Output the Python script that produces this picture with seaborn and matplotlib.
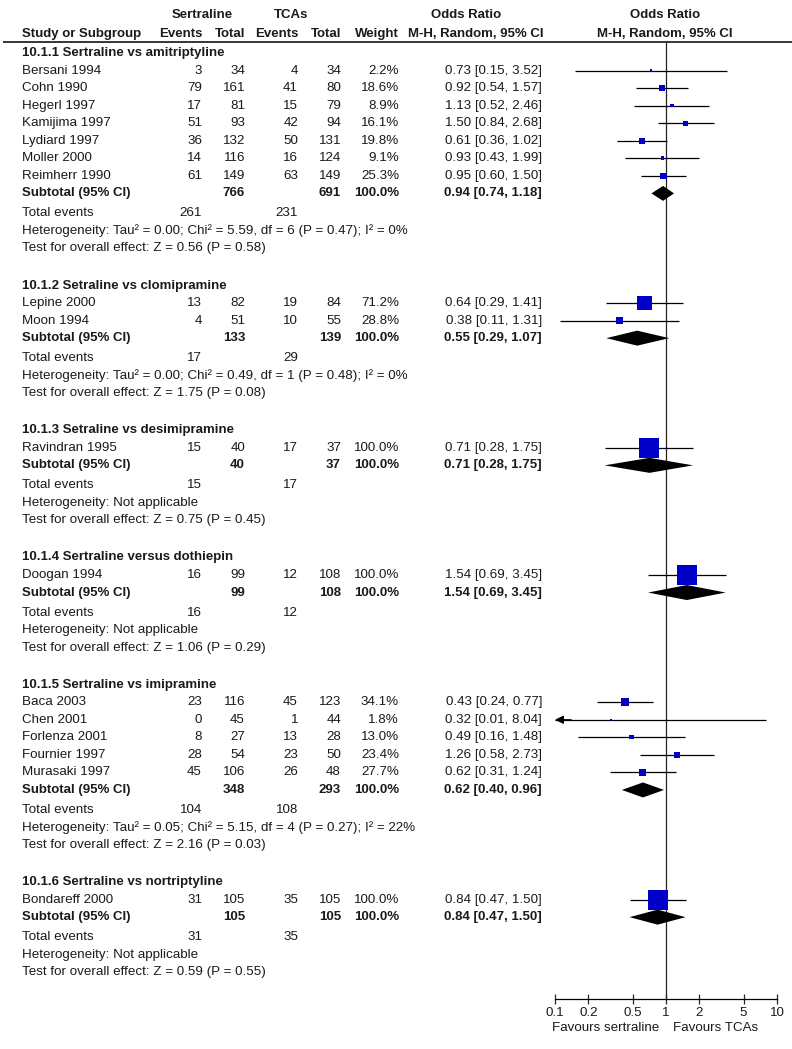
import numpy as np
import pandas as pd
import seaborn as sns
import matplotlib
matplotlib.use("Agg")
import matplotlib.pyplot as plt

# ---- data ----
sections = [
    "10.1.1 Sertraline vs amitriptyline",
    "10.1.2 Setraline vs clomipramine",
    "10.1.3 Setraline vs desimipramine",
    "10.1.4 Sertraline versus dothiepin",
    "10.1.5 Sertraline vs imipramine",
    "10.1.6 Sertraline vs nortriptyline",
]

study_names = [
    ["Bersani 1994", "Cohn 1990", "Hegerl 1997", "Kamijima 1997", "Lydiard 1997", "Moller 2000", "Reimherr 1990"],
    ["Lepine 2000", "Moon 1994"],
    ["Ravindran 1995"],
    ["Doogan 1994"],
    ["Baca 2003", "Chen 2001", "Forlenza 2001", "Fournier 1997", "Murasaki 1997"],
    ["Bondareff 2000"],
]
sert_events = [[3, 79, 17, 51, 36, 14, 61], [13, 4], [15], [16], [23, 0, 8, 28, 45], [31]]
sert_total = [[34, 161, 81, 93, 132, 116, 149], [82, 51], [40], [99], [116, 45, 27, 54, 106], [105]]
tca_events = [[4, 41, 15, 42, 50, 16, 63], [19, 10], [17], [12], [45, 1, 13, 23, 26], [35]]
tca_total = [[34, 80, 79, 94, 131, 124, 149], [84, 55], [37], [108], [123, 44, 28, 50, 48], [105]]
weights = [[2.2, 18.6, 8.9, 16.1, 19.8, 9.1, 25.3], [71.2, 28.8], [100.0], [100.0],
           [34.1, 1.8, 13.0, 23.4, 27.7], [100.0]]
odds = [[0.73, 0.92, 1.13, 1.50, 0.61, 0.93, 0.95], [0.64, 0.38], [0.71], [1.54],
        [0.43, 0.32, 0.49, 1.26, 0.62], [0.84]]
ci_low = [[0.15, 0.54, 0.52, 0.84, 0.36, 0.43, 0.60], [0.29, 0.11], [0.28], [0.69],
          [0.24, 0.01, 0.16, 0.58, 0.31], [0.47]]
ci_high = [[3.52, 1.57, 2.46, 2.68, 1.02, 1.99, 1.50], [1.41, 1.31], [1.75], [3.45],
           [0.77, 8.04, 1.48, 2.73, 1.24], [1.50]]

sub_or = [0.94, 0.55, 0.71, 1.54, 0.62, 0.84]
sub_low = [0.74, 0.29, 0.28, 0.69, 0.40, 0.47]
sub_high = [1.18, 1.07, 1.75, 3.45, 0.96, 1.50]

heterogeneity = [
    "Heterogeneity: Tau\u00b2 = 0.00; Chi\u00b2 = 5.59, df = 6 (P = 0.47); I\u00b2 = 0%",
    "Heterogeneity: Tau\u00b2 = 0.00; Chi\u00b2 = 0.49, df = 1 (P = 0.48); I\u00b2 = 0%",
    "Heterogeneity: Not applicable",
    "Heterogeneity: Not applicable",
    "Heterogeneity: Tau\u00b2 = 0.05; Chi\u00b2 = 5.15, df = 4 (P = 0.27); I\u00b2 = 22%",
    "Heterogeneity: Not applicable",
]
overall_z = ["Z = 0.56 (P = 0.58)", "Z = 1.75 (P = 0.08)", "Z = 0.75 (P = 0.45)",
             "Z = 1.06 (P = 0.29)", "Z = 2.16 (P = 0.03)", "Z = 0.59 (P = 0.55)"]

x_ticks = [0.1, 0.2, 0.5, 1, 2, 5, 10]
x_tick_labels = ["0.1", "0.2", "0.5", "1", "2", "5", "10"]

# ---- layout ----
W, H = 792, 1049
ROW = 17.55
X_NAME, X_EV1, X_TOT1, X_EV2, X_TOT2, X_WT, X_CI = 22, 202, 245, 298, 341, 399, 542
TXT = "#1a1a1a"
FS = 9.6
FSB = 9.5
SQUARE_BLUE = "#0000c8"

sns.set_style("white")
plt.rcParams["font.family"] = ["Liberation Sans", "DejaVu Sans"]

fig = plt.figure(figsize=(W / 100, H / 100), dpi=100)
ax = fig.add_axes([0, 0, 1, 1])
ax.set_xlim(0, W)
ax.set_ylim(H, 0)
ax.axis("off")

axf = fig.add_axes([555 / W, 0, 222 / W, 1])
axf.set_xscale("log")
axf.set_xlim(0.1, 10)
axf.set_ylim(H, 0)
axf.patch.set_alpha(0)


def put(x, y, s, ha="right", bold=False, **kw):
    ax.text(x, y, s, ha=ha, va="center", color=TXT,
            fontsize=FSB if bold else FS, fontweight="bold" if bold else "normal", **kw)


# header
put(202, 15, "Sertraline", ha="center", bold=True)
put(291, 15, "TCAs", ha="center", bold=True)
put(466, 15, "Odds Ratio", ha="center", bold=True)
put(665, 15, "Odds Ratio", ha="center", bold=True)
put(X_NAME, 34, "Study or Subgroup", ha="left", bold=True)
for xx, lab in [(X_EV1, "Events"), (X_TOT1, "Total"), (X_EV2, "Events"), (X_TOT2, "Total"), (X_WT, "Weight")]:
    put(xx, 34, lab, bold=True)
put(476, 34, "M-H, Random, 95% CI", ha="center", bold=True)
put(665, 34, "M-H, Random, 95% CI", ha="center", bold=True)
ax.hlines(42, 3, W, color="black", lw=1.1)

rows = []
diamonds = []
y = 53
for i, sec in enumerate(sections):
    put(X_NAME, y, sec, ha="left", bold=True)
    for j, name in enumerate(study_names[i]):
        y += ROW
        put(X_NAME, y, name, ha="left")
        put(X_EV1, y, str(sert_events[i][j]))
        put(X_TOT1, y, str(sert_total[i][j]))
        put(X_EV2, y, str(tca_events[i][j]))
        put(X_TOT2, y, str(tca_total[i][j]))
        put(X_WT, y, f"{weights[i][j]:.1f}%")
        put(X_CI, y, f"{odds[i][j]:.2f} [{ci_low[i][j]:.2f}, {ci_high[i][j]:.2f}]")
        rows.append(dict(study=name, ypos=y, OR=odds[i][j], lo=ci_low[i][j],
                         hi=ci_high[i][j], w=weights[i][j]))
    y += ROW
    put(X_NAME, y, "Subtotal (95% CI)", ha="left", bold=True)
    put(X_TOT1, y, str(sum(sert_total[i])), bold=True)
    put(X_TOT2, y, str(sum(tca_total[i])), bold=True)
    put(X_WT, y, "100.0%", bold=True)
    put(X_CI, y, f"{sub_or[i]:.2f} [{sub_low[i]:.2f}, {sub_high[i]:.2f}]", bold=True)
    diamonds.append((y, sub_or[i], sub_low[i], sub_high[i]))
    y += 20
    put(X_NAME, y, "Total events", ha="left")
    put(X_EV1, y, str(sum(sert_events[i])))
    put(X_EV2, y, str(sum(tca_events[i])))
    y += ROW
    put(X_NAME, y, heterogeneity[i], ha="left")
    y += ROW
    put(X_NAME, y, "Test for overall effect: " + overall_z[i], ha="left")
    y += 37

df = pd.DataFrame(rows)
# square side grows with study weight (px -> pt)
df["msize"] = ((2 + 18 * df["w"] / 100) * 0.72) ** 2

# confidence interval lines, clipped at the axis with an arrow
for _, r in df.iterrows():
    lo = max(r["lo"], 0.1)
    hi = min(r["hi"], 10)
    axf.hlines(r["ypos"], lo, hi, color="black", lw=0.9, zorder=2)
    if r["lo"] < 0.1:
        axf.annotate("", xy=(0.1, r["ypos"]), xytext=(0.14, r["ypos"]),
                     arrowprops=dict(arrowstyle="-|>,head_length=0.5,head_width=0.25",
                                     color="black", lw=0.9, shrinkA=0, shrinkB=0))

sns.scatterplot(data=df, x="OR", y="ypos", marker="s", s=df["msize"], color=SQUARE_BLUE,
                linewidth=0, ax=axf, zorder=3, legend=False)

for yy, o, lo, hi in diamonds:
    axf.fill([lo, o, hi, o], [yy, yy - 7.5, yy, yy + 7.5], color="black", lw=0, zorder=4)

axf.vlines(1, 42, 999, color="#222222", lw=0.9, zorder=1)

for side in ["left", "right", "top"]:
    axf.spines[side].set_visible(False)
axf.spines["bottom"].set_position(("data", 999))
axf.spines["bottom"].set_color("black")
axf.spines["bottom"].set_linewidth(0.9)
axf.set_yticks([])
axf.set_xticks(x_ticks)
axf.set_xticklabels(x_tick_labels)
axf.minorticks_off()
axf.tick_params(axis="x", direction="inout", length=7, width=0.9, pad=2.5,
                labelsize=FS, labelcolor=TXT, bottom=True)
axf.set_xlabel("")
axf.set_ylabel("")

put(659, 1028, "Favours sertraline")
put(673, 1028, "Favours TCAs", ha="left")

fig.savefig("out.png", dpi=100)
